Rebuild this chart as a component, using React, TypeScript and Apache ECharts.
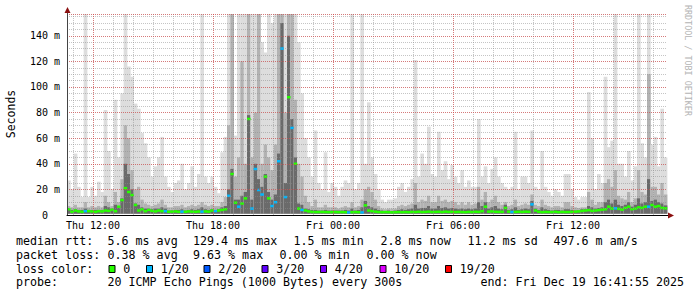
import React, { useEffect, useRef } from 'react';
import * as echarts from 'echarts';

// minutes since Thu 10:42 (window start), 10-minute samples
const STEP = 10;
const X_MAX = 1800;
const Y_MAX = 157;
const SMOKE_FLOOR = 1.0;

const majorTicks = [78, 438, 798, 1158, 1518];
const majorLabels = ['Thu 12:00', 'Thu 18:00', 'Fri 00:00', 'Fri 06:00', 'Fri 12:00'];
const hourTicks = Array.from({ length: 30 }, (_, k) => 18 + 60 * k);

// smoke: max ping (lightest), inner band, core band (ms)
const maxRtt = [
  27, 20, 48, 22, 14, 157, 14, 22, 15, 26,
  18, 82, 50, 20, 90, 45, 95, 157, 116, 108,
  87, 83, 64, 56, 45, 30, 38, 45, 61, 30,
  22, 18, 25, 27, 40, 20, 25, 38, 22, 32,
  157, 30, 25, 30, 22, 17, 49, 61, 157, 157,
  62, 157, 157, 157, 157, 157, 157, 157, 135, 127,
  157, 150, 157, 157, 157, 157, 157, 157, 157, 135,
  95, 60, 45, 30, 66, 25, 20, 49, 18, 25,
  22, 15, 22, 27, 25, 157, 20, 25, 157, 40,
  88, 45, 32, 20, 12, 10, 12, 12, 13, 22,
  25, 18, 22, 28, 121, 30, 48, 40, 69, 32,
  30, 65, 35, 42, 28, 39, 30, 25, 35, 22,
  27, 22, 22, 75, 30, 38, 25, 36, 45, 30,
  25, 22, 20, 22, 65, 20, 30, 30, 25, 66,
  22, 20, 50, 22, 18, 15, 20, 18, 15, 32,
  32, 20, 14, 12, 14, 14, 96, 60, 20, 32,
  25, 108, 53, 58, 157, 40, 40, 30, 50, 27,
  38, 157, 56, 45, 157, 55, 61, 38, 83, 45,
];
const midRtt = [
  7, 6, 8, 6, 6, 10, 6, 7, 6, 7,
  6, 15, 10, 7, 18, 10, 28, 70, 60, 35,
  20, 22, 12, 9, 8, 7, 8, 9, 12, 8,
  6, 6, 7, 7, 8, 6, 7, 8, 7, 8,
  10, 8, 7, 8, 7, 7, 10, 14, 70, 157,
  30, 45, 120, 40, 157, 45, 80, 157, 40, 55,
  45, 35, 55, 157, 157, 80, 157, 157, 90, 40,
  30, 15, 10, 7, 12, 6, 6, 8, 6, 6,
  6, 5, 6, 7, 6, 10, 6, 7, 12, 20,
  22, 18, 12, 7, 5, 4.5, 5, 5, 5, 7,
  8, 7, 8, 9, 25, 10, 12, 11, 15, 10,
  10, 15, 11, 12, 10, 11, 10, 8, 10, 8,
  10, 8, 9, 22, 12, 18, 10, 12, 15, 10,
  8, 10, 7, 8, 12, 7, 8, 9, 8, 16,
  8, 7, 12, 8, 7, 6, 7, 7, 6, 10,
  10, 7, 6, 5.5, 6, 6, 18, 12, 8, 10,
  10, 25, 28, 22, 35, 15, 13, 12, 18, 10,
  13, 35, 18, 16, 110, 22, 22, 16, 25, 16,
];
const darkRtt = [
  4.5, 4, 4.5, 4, 4, 5, 4, 4, 4, 4,
  4, 7, 6, 5, 8, 6, 13, 40, 32, 20,
  9, 8, 6, 5, 5, 4.5, 5, 5, 6, 5,
  3.5, 3.5, 4, 4, 4.5, 3.5, 4, 4.5, 4, 4.5,
  6, 4.5, 4, 4.5, 4, 4.5, 6, 7, 20, 36,
  12, 12, 15, 18, 78, 12, 40, 28, 22, 32,
  18, 12, 16, 48, 150, 25, 140, 75, 45, 9,
  8, 5, 4.5, 4, 4, 3.5, 3.5, 4, 3.5, 3.5,
  3.5, 3.5, 3.5, 4, 3.5, 5, 3.5, 4, 6, 11,
  7, 6, 5, 4, 3.5, 3, 3.5, 3, 3.5, 4,
  4.5, 4, 4.5, 5, 8, 5, 5.5, 5.5, 7, 5,
  5, 7, 5.5, 6, 5, 5.5, 5, 4.5, 5, 4.5,
  5, 4.5, 5, 10, 7, 10, 5, 6, 7, 5,
  4.5, 8, 4, 4.5, 6, 4, 4.5, 5, 4.5, 11,
  5, 4, 6, 4.5, 4, 3.5, 4, 4, 3.5, 4.5,
  4.5, 4, 3.5, 3.5, 4.5, 4.5, 7, 6, 5, 5.5,
  6, 10, 12, 9, 12, 8, 7, 8, 10, 6.5,
  8, 13, 9, 10, 28, 11, 12, 10, 9, 7.5,
];
const medianRtt = [
  4.5, 2.5, 3.5, 2.8, 2.5, 3.0, 3.0, 2.8, 2.5, 3.0,
  2.8, 3.5, 3.2, 4.2, 3.0, 6.5, 11.7, 21, 18, 15.6,
  7.8, 3.5, 4.5, 3.0, 4.0, 3.2, 2.8, 3.5, 3.0, 3.0,
  2.5, 2.6, 2.8, 2.5, 2.6, 2.5, 2.8, 2.6, 2.5, 2.7,
  2.6, 2.8, 2.6, 3.5, 3.0, 3.5, 4.0, 4.5, 15, 32,
  9.6, 6.5, 9, 13, 75, 5, 36, 19.5, 16, 30,
  13, 7, 10, 42, 130, 14, 92, 68, 40, 5,
  4, 3.5, 2.8, 2.4, 2.3, 2.3, 2.4, 2.3, 2.2, 2.3,
  2.3, 2.2, 2.3, 2.2, 2.0, 2.2, 2.3, 2.2, 2.0, 7.5,
  3.5, 3.0, 2.6, 2.3, 2.2, 2.3, 2.2, 2.1, 2.2, 2.3,
  2.2, 2.3, 2.2, 2.4, 2.3, 2.5, 2.3, 2.4, 2.6, 2.3,
  2.4, 2.5, 2.3, 2.6, 2.4, 2.5, 2.3, 2.4, 2.3, 2.2,
  2.4, 2.3, 2.5, 2.4, 3.0, 6.5, 2.6, 2.8, 2.5, 2.4,
  2.5, 5.5, 2.6, 2.3, 2.4, 2.5, 2.4, 2.6, 2.5, 8.3,
  3.5, 2.5, 2.2, 2.4, 2.3, 2.3, 2.5, 2.2, 2.4, 2.3,
  2.3, 2.5, 2.6, 2.8, 3.2, 3.5, 3.8, 3.2, 3.5, 3.8,
  4.2, 4.5, 6.5, 5.0, 5.2, 4.8, 4.2, 5.5, 6.5, 4.5,
  5.0, 6.0, 5.5, 6.5, 6.5, 7.8, 6.5, 7.0, 5.5, 5.2,
];
// samples with 1/20 packet loss (all others 0)
const lossOneSteps = [5, 29, 34, 40, 44, 48, 51, 55, 56, 57, 58, 61, 62, 63, 64, 65, 67, 70, 84, 88, 133, 139, 164, 174];

const lossLabels = ['0', '1/20', '2/20', '3/20', '4/20', '10/20', '19/20'];
const lossColors = ['#26ff00', '#00b8ff', '#0059ff', '#5e00ff', '#7e00ff', '#dd00ff', '#ff0000'];

const legendLine1 = ['median rtt:', '5.6 ms avg', '129.4 ms max', '1.5 ms min', '2.8 ms now', '11.2 ms sd', '497.6 m am/s'];
const legendLine2 = ['packet loss:', '0.38 % avg', '9.63 % max', '0.00 % min', '0.00 % now'];
const legendLine4 = ['probe:', '20 ICMP Echo Pings (1000 Bytes) every 300s', 'end: Fri Dec 19 16:41:55 2025'];

const MONO = '"DejaVu Sans Mono", "Liberation Mono", monospace';

export default function App() {
  const ref = useRef<HTMLDivElement>(null);
  useEffect(() => {
    if (!ref.current) return;
    const chart = echarts.init(ref.current, undefined, { renderer: 'svg' });

    const lossLevel = medianRtt.map((_, i) => (lossOneSteps.includes(i) ? 1 : 0));
    const smokeData = maxRtt.map((v, i) => [i * STEP, v, midRtt[i], darkRtt[i]]);
    const medData = medianRtt.map((v, i) => [i * STEP, v, lossLevel[i]]);

    const legendFont = { fontFamily: MONO, fontSize: 11.67, fill: '#000' };
    const graphics: any[] = [];
    const line1X = [16, 107.5, 193, 293.5, 380.5, 467.5, 553.5];
    legendLine1.forEach((t, k) => graphics.push({ type: 'text', x: line1X[k], y: 241, style: { text: t, ...legendFont, verticalAlign: 'middle' } }));
    const line2X = [16, 107.5, 193, 279.5, 366.5];
    legendLine2.forEach((t, k) => graphics.push({ type: 'text', x: line2X[k], y: 254.5, style: { text: t, ...legendFont, verticalAlign: 'middle' } }));
    graphics.push({ type: 'text', x: 16, y: 268.5, style: { text: 'loss color:', ...legendFont, verticalAlign: 'middle' } });
    const boxX = [108.5, 146, 203.5, 261.5, 320, 379.5, 445];
    lossLabels.forEach((t, k) => {
      graphics.push({ type: 'rect', shape: { x: boxX[k] + 0.5, y: 265.5, width: 6, height: 7 }, style: { fill: lossColors[k], stroke: '#000', lineWidth: 1 } });
      graphics.push({ type: 'text', x: boxX[k] + 14.7, y: 268.5, style: { text: t, ...legendFont, verticalAlign: 'middle' } });
    });
    const line4X = [16, 107.5, 480.5];
    legendLine4.forEach((t, k) => graphics.push({ type: 'text', x: line4X[k], y: 282, style: { text: t, ...legendFont, verticalAlign: 'middle' } }));
    // axis title
    graphics.push({ type: 'text', x: 11, y: 114, rotation: Math.PI / 2, style: { text: 'Seconds', fontFamily: MONO, fontSize: 11.5, fill: '#000', align: 'center', verticalAlign: 'middle' } });
    // watermark
    graphics.push({ type: 'text', x: 688, y: 5, rotation: -Math.PI / 2, style: { text: 'RRDTOOL / TOBI OETIKER', fontFamily: MONO, fontSize: 8.4, fill: '#b4b4b4', align: 'left', verticalAlign: 'middle' } });
    // axis arrows
    graphics.push({ type: 'line', z: 20, shape: { x1: 67.5, y1: 14, x2: 67.5, y2: 11 }, style: { stroke: '#444', lineWidth: 1 } });
    graphics.push({ type: 'polygon', z: 20, shape: { points: [[67.5, 7], [64.5, 13], [70.5, 13]] }, style: { fill: '#8b1010' } });
    graphics.push({ type: 'line', z: 20, shape: { x1: 667, y1: 215.5, x2: 669, y2: 215.5 }, style: { stroke: '#000', lineWidth: 1 } });
    graphics.push({ type: 'polygon', z: 20, shape: { points: [[674, 215.5], [668, 212.5], [668, 218.5]] }, style: { fill: '#8b1010' } });

    const gridColor = 'rgba(140,140,140,0.5)';
    const mgridColor = 'rgba(225,60,60,0.55)';

    const option: any = {
      animation: false,
      backgroundColor: '#fff',
      grid: { left: 67, top: 14, width: 600, height: 201, containLabel: false },
      xAxis: [
        {
          type: 'value', min: 0, max: X_MAX, z: 5,
          axisLine: { show: false }, axisLabel: { show: false },
          axisTick: { show: false, customValues: hourTicks },
          splitLine: { show: true, lineStyle: { color: gridColor, type: [1, 1], width: 1 } },
        },
        {
          type: 'value', min: 0, max: X_MAX, z: 6, position: 'bottom',
          axisLine: { show: true, onZero: false, lineStyle: { color: '#000', width: 1 } },
          axisTick: { show: false, customValues: majorTicks },
          axisLabel: {
            customValues: majorTicks,
            formatter: (v: number) => majorLabels[majorTicks.indexOf(v)] ?? '',
            fontFamily: MONO, fontSize: 10, color: '#000', margin: 5,
          },
          splitLine: { show: true, lineStyle: { color: mgridColor, type: [1, 1], width: 1 } },
        },
      ],
      yAxis: [
        {
          type: 'value', min: 0, max: Y_MAX, interval: 20, z: 6, position: 'left',
          axisLine: { show: true, lineStyle: { color: '#444', width: 1 } },
          axisTick: { show: false },
          axisLabel: {
            showMaxLabel: false,
            formatter: (v: number) => (v === 0 ? '0\u00a0\u00a0' : `${v} m`),
            fontFamily: MONO, fontSize: 10, color: '#000', margin: 7,
          },
          splitLine: { show: true, lineStyle: { color: mgridColor, type: [1, 1], width: 1 } },
        },
        {
          type: 'value', min: 0, max: Y_MAX, interval: 5, z: 5, position: 'left',
          axisLine: { show: false }, axisTick: { show: false }, axisLabel: { show: false },
          splitLine: { show: true, lineStyle: { color: gridColor, type: [1, 1], width: 1 } },
        },
      ],
      series: [
        {
          type: 'custom', name: 'smoke', xAxisIndex: 0, yAxisIndex: 0, z: 1,
          data: smokeData,
          renderItem: (params: any, api: any) => {
            const t = api.value(0);
            const p0 = api.coord([t, SMOKE_FLOOR]);
            const p1 = api.coord([t + STEP, SMOKE_FLOOR]);
            const x = p0[0];
            const w = p1[0] - p0[0] + 0.35;
            const shades = ['#dddddd', '#b2b2b2', '#6a6a6a'];
            const children = [1, 2, 3].map((k, n) => {
              const yy = api.coord([t, Math.min(api.value(k), Y_MAX)])[1];
              return { type: 'rect', shape: { x, y: yy, width: w, height: p0[1] - yy }, style: { fill: shades[n] } };
            });
            return { type: 'group', children };
          },
        },
        {
          type: 'custom', name: 'median', xAxisIndex: 0, yAxisIndex: 0, z: 2,
          data: medData,
          renderItem: (params: any, api: any) => {
            const t = api.value(0);
            const p0 = api.coord([t, api.value(1)]);
            const p1 = api.coord([t + STEP, api.value(1)]);
            return {
              type: 'rect',
              shape: { x: p0[0], y: p0[1] - 1.25, width: p1[0] - p0[0] + 0.2, height: 2.5 },
              style: { fill: lossColors[api.value(2)] },
            };
          },
        },
      ],
      graphic: graphics,
    };
    chart.setOption(option);
    return () => chart.dispose();
  }, []);
  return <div ref={ref} style={{ position: 'fixed', left: 0, top: 0, width: 697, height: 297, background: '#fff' }} />;
}
